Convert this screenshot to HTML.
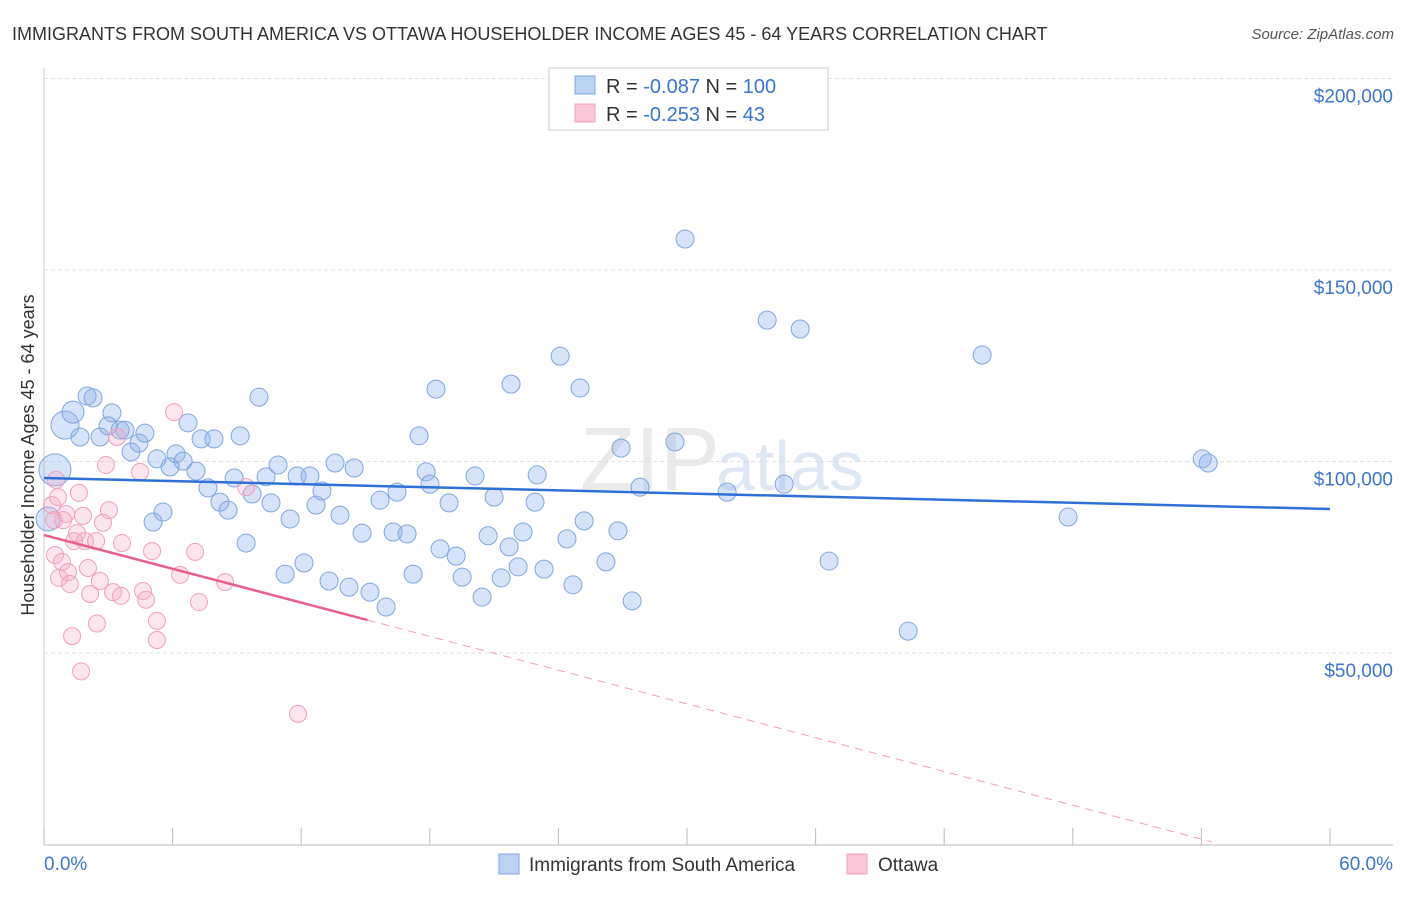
<!DOCTYPE html>
<html><head><meta charset="utf-8"><style>
body{margin:0;background:#fff;font-family:"Liberation Sans",sans-serif;}
svg text{font-family:"Liberation Sans",sans-serif;}
</style></head><body>
<svg id="chart" width="1406" height="892" xmlns="http://www.w3.org/2000/svg">
<text x="12" y="40" font-size="18" fill="#333">IMMIGRANTS FROM SOUTH AMERICA VS OTTAWA HOUSEHOLDER INCOME AGES 45 - 64 YEARS CORRELATION CHART</text>
<text x="1394" y="39" font-size="15" fill="#555" font-style="italic" text-anchor="end">Source: ZipAtlas.com</text>
<g id="grid"></g>
<text x="720" y="490" font-size="90" fill="#ddd" text-anchor="end" font-family="Liberation Serif" opacity="0.6">ZIP</text>
<text x="716" y="490" font-size="70" fill="#c9d9ef" opacity="0.6">atlas</text>
<g id="axes"></g>
<g id="pts"></g>
<g id="lines"></g>
<g>
<rect x="549" y="68" width="279" height="62" fill="#fff" stroke="#ccc"/>
<rect x="575" y="76" width="20" height="18" fill="#bcd3f3" stroke="#7fa6e0"/>
<rect x="575" y="104" width="20" height="18" fill="#fac8d8" stroke="#f0a0bc"/>
<text x="606" y="93" font-size="20" fill="#333">R = <tspan fill="#3a75d0">-0.087</tspan>   N = <tspan fill="#3a75d0">100</tspan></text>
<text x="606" y="121" font-size="20" fill="#333">R = <tspan fill="#3a75d0">-0.253</tspan>   N =  <tspan fill="#3a75d0"> 43</tspan></text>
</g>
<g>
<rect x="499" y="854" width="20" height="20" fill="#bcd3f3" stroke="#7fa6e0"/>
<text x="529" y="871" font-size="19" fill="#333">Immigrants from South America</text>
<rect x="847" y="854" width="20" height="20" fill="#fac8d8" stroke="#f0a0bc"/>
<text x="878" y="871" font-size="19" fill="#333">Ottawa</text>
</g>
<text x="34" y="455" font-size="18" fill="#333" text-anchor="middle" transform="rotate(-90 34 455)">Householder Income Ages 45 - 64 years</text>
</svg>
<script>
const yTicks=[50000,100000,150000,200000];
const yTickLabels=["$50,000","$100,000","$150,000","$200,000"];
const xTickVals=[0,6,12,18,24,30,36,42,48,54,60];
const blueX=[.51,.98,1.35,1.68,2.01,2.29,2.61,3.17,2.99,3.55,3.78,4.06,4.43,4.71,5.09,5.27,5.55,5.88,6.16,6.49,6.72,7.09,7.33,7.65,7.93,8.21,8.59,8.87,9.15,9.43,9.71,10.03,10.36,10.59,10.92,11.25,11.48,11.81,12.13,12.41,12.69,12.97,13.30,13.58,13.81,14.23,14.47,14.84,15.21,15.68,15.96,16.29,16.47,16.94,17.22,17.50,17.83,18.01,18.29,18.48,18.90,19.23,19.51,20.11,20.44,20.72,21.00,21.33,21.70,21.79,22.12,22.35,22.91,23.01,23.33,24.08,24.40,24.68,25.01,25.20,26.22,26.78,26.92,27.44,27.81,29.44,29.91,31.87,33.74,34.53,35.28,36.63,40.32,43.77,47.78,54.04,54.32,.19];
const blueY=[97.8,109.5,112.9,106.4,117.1,116.6,106.4,112.7,109.3,108.2,108.2,102.5,104.8,107.4,84.2,100.7,86.8,98.6,102.0,100.1,110.1,97.5,105.9,93.1,105.9,89.4,87.3,95.7,106.7,78.7,91.5,116.8,96.0,89.2,99.1,70.6,85.0,96.2,73.5,96.2,88.6,92.3,68.8,99.6,86.0,67.2,98.3,81.3,65.9,89.9,62.0,81.6,92.0,81.1,70.6,106.7,97.3,94.1,118.9,77.2,89.2,75.3,69.8,96.2,64.6,80.6,90.7,69.6,77.7,120.2,72.5,81.6,89.4,96.5,71.9,127.5,79.8,67.8,119.2,84.5,73.8,81.9,103.5,63.6,93.3,105.1,158.1,92.0,136.9,94.1,134.6,74.0,55.7,127.8,85.5,100.7,99.6,85.0];
const blueSize=[16,14,11,9,9,9,9,9,9,9,9,9,9,9,9,9,9,9,9,9,9,9,9,9,9,9,9,9,9,9,9,9,9,9,9,9,9,9,9,9,9,9,9,9,9,9,9,9,9,9,9,9,9,9,9,9,9,9,9,9,9,9,9,9,9,9,9,9,9,9,9,9,9,9,9,9,9,9,9,9,9,9,9,9,9,9,9,9,9,9,9,9,9,9,9,9,9,12];
const pinkX=[.37,.56,.47,.65,.51,.84,.70,1.03,.89,1.12,1.21,1.31,1.40,1.54,1.63,1.73,1.82,1.91,2.05,2.15,2.43,2.47,2.61,2.75,2.89,3.03,3.22,3.41,3.59,4.48,4.62,4.76,5.04,5.27,5.27,6.07,6.35,7.05,7.23,8.45,9.43,11.85,3.64];
const pinkY=[88.6,95.2,84.7,90.7,75.6,73.8,69.6,86.3,84.7,71.1,68.0,54.4,79.2,81.3,91.8,45.2,85.8,79.2,72.2,65.4,79.2,57.7,68.8,84.0,99.1,87.3,65.9,106.4,64.9,97.3,66.2,63.9,76.6,58.4,53.4,112.9,70.4,76.4,63.3,68.5,93.3,34.1,78.7];
const blueTrend=[95.7,87.6];   // at 0% and 60%
const pinkTrend=[80.8,-1470/1000]; // intercept (k$), slope per %
const NS="http://www.w3.org/2000/svg";
const X=p=>44+p*(1330-44)/60;
const Y=v=>844.5-v*191.5/50000;
function mk(tag,attrs,parent){const e=document.createElementNS(NS,tag);for(const k in attrs)e.setAttribute(k,attrs[k]);parent.appendChild(e);return e;}
const grid=document.getElementById('grid'),axes=document.getElementById('axes'),pts=document.getElementById('pts'),lines=document.getElementById('lines');
yTicks.forEach((t,i)=>{
 const l=mk('line',{x1:44,x2:1393,y1:Y(t),y2:Y(t),stroke:'#e2e2e2','stroke-dasharray':'4,3'},grid);
 
 
 const tx=mk('text',{x:1393,y:Y(t)+24,'font-size':19,fill:'#3a75d0','text-anchor':'end'},axes);
 tx.textContent=yTickLabels[i];
 
 
});
const ax=mk('line',{x1:44,x2:1393,y1:845,y2:845,stroke:'#bbb'},axes);


const ay=mk('line',{x1:44,x2:44,y1:68,y2:845,stroke:'#ccc'},axes);


xTickVals.forEach(t=>{
 const l=mk('line',{x1:X(t),x2:X(t),y1:828,y2:845,stroke:'#bbb'},axes);
 
 
});
[[0,'0.0%','start',44],[60,'60.0%','end',1393]].forEach(d=>{
 const tx=mk('text',{x:d[3],y:870,'font-size':19,fill:'#3a75d0','text-anchor':d[2]},axes);
 tx.textContent=d[1];
 
 
});
blueX.forEach((p,i)=>{
 const c=mk('circle',{cx:X(p),cy:Y(blueY[i]*1000),r:blueSize[i],fill:'rgba(140,175,235,0.35)',stroke:'#7fa6e0','stroke-width':1},pts);
 
 
});
pinkX.forEach((p,i)=>{
 const c=mk('circle',{cx:X(p),cy:Y(pinkY[i]*1000),r:8.5,fill:'rgba(245,170,195,0.3)',stroke:'#f0a0bc','stroke-width':1},pts);
 
 
});
const bl=mk('line',{x1:X(0),y1:Y(blueTrend[0]*1000),x2:X(60),y2:Y(blueTrend[1]*1000),stroke:'#2f6fd6','stroke-width':2.5},lines);


const pv=p=>(pinkTrend[0]+pinkTrend[1]*p)*1000;
const pl=mk('line',{x1:X(0),y1:Y(pv(0)),x2:X(15.1),y2:Y(pv(15.1)),stroke:'#e8608e','stroke-width':2.5},lines);


const pd=mk('line',{x1:X(15.1),y1:Y(pv(15.1)),x2:X(54.5),y2:Y(pv(54.5)),stroke:'#f0a0bc','stroke-width':1,'stroke-dasharray':'8,6'},lines);


</script>
</body></html>
